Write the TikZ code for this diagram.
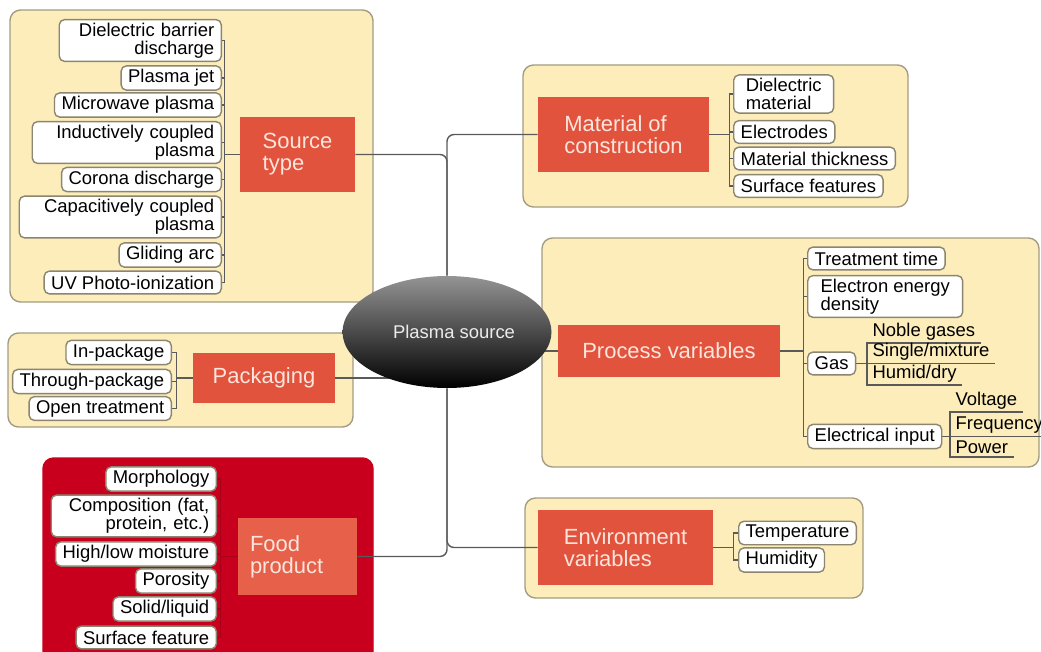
\documentclass[tikz,border=0pt]{standalone}
\usepackage{fontspec}
\setmainfont{Liberation Sans}
\usetikzlibrary{shapes.geometric}
\definecolor{boxyellow}{HTML}{FCEDBB}
\definecolor{boxline}{HTML}{A39C82}
\definecolor{nodered1}{HTML}{E2533D}
\definecolor{nodered2}{HTML}{C8001E}
\definecolor{nodered3}{HTML}{E6604A}
\definecolor{nodered4}{HTML}{A8001A}
\definecolor{leafline}{HTML}{8C8670}
\definecolor{linegray}{HTML}{5A5A5A}
\definecolor{topictext}{HTML}{FCE5DC}
\pgfdeclarelayer{boxes}
\pgfdeclarelayer{lines}
\pgfsetlayers{boxes,lines,main}
\tikzset{
  group/.style={draw=boxline, fill=boxyellow, rounded corners=6pt, line width=0.8pt},
  topic/.style={fill=nodered1, text=topictext, font=\fontsize{12.5}{12.5}\selectfont, align=left, inner sep=0pt},
  leaf/.style={draw=leafline, fill=white, rounded corners=3pt, line width=0.8pt,
    font=\fontsize{10.5}{10}\selectfont, inner xsep=4pt, inner ysep=2pt, minimum height=13pt},
  sub/.style={font=\fontsize{10.5}{10}\selectfont, inner xsep=3pt, inner ysep=1.5pt, anchor=south west},
  conn/.style={draw=linegray, line width=0.8pt}
}
\begin{document}
\begin{tikzpicture}[x=0.02cm, y=-0.02cm]
   \useasboundingbox (0,0) rectangle (1041,652);
   \begin{pgfonlayer}{boxes}
   \draw[group] (10,10) rectangle (373,302);
   \draw[group] (523,65) rectangle (908,207);
   \draw[group] (542,238) rectangle (1039,467);
   \draw[group] (8,333) rectangle (353,427);
   \draw[group, fill=nodered2, draw=nodered2] (43,458) rectangle (373,680);
   \draw[group] (525,498) rectangle (863,598);
   \end{pgfonlayer}

   \node[ellipse, minimum width=3.8cm, minimum height=2.24cm, top color=black!42, middle color=black, bottom color=black,
     text=white!92!black, font=\fontsize{10.5}{12}\selectfont] (ps) at (447,332) {\hspace{8pt}Plasma source};

   \node[topic, minimum width=2.3cm, minimum height=1.5cm] (srctype) at (297.5,154.5) {Source\\type};
   \node[topic, minimum width=3.42cm, minimum height=1.5cm] (mat) at (623.5,134.5) {Material of\\construction};
   \node[topic, minimum width=4.44cm, minimum height=1.04cm] (proc) at (669,351) {Process variables};
   \node[topic, minimum width=2.84cm, minimum height=1cm] (pack) at (264,378) {Packaging};
   \node[topic, fill=nodered3, text width=1.9cm, minimum width=2.38cm, minimum height=1.54cm] (food) at (297.5,556.5) {Food\\product};
   \node[topic, minimum width=3.5cm, minimum height=1.5cm] (env) at (625.5,547.5) {Environment\\variables};

   \node[leaf, anchor=east, text width=2.96cm, align=right] (dbd) at (222,40.5) {Dielectric barrier\\discharge};
   \node[leaf, anchor=east] (jet) at (222,78) {Plasma jet};
   \node[leaf, anchor=east] (mwp) at (222,105) {Microwave plasma};
   \node[leaf, anchor=east, text width=3.5cm, align=right] (icp) at (222,142.5) {Inductively coupled\\plasma};
   \node[leaf, anchor=east] (cor) at (222,179.5) {Corona discharge};
   \node[leaf, anchor=east, text width=3.76cm, align=right] (ccp) at (222,217) {Capacitively coupled\\plasma};
   \node[leaf, anchor=east] (arc) at (222,255) {Gliding arc};
   \node[leaf, anchor=east] (uvp) at (222,282.5) {UV Photo-ionization};

   \node[leaf, anchor=west, minimum width=2cm, align=left] (diel) at (733,94) {Dielectric\\material};
   \node[leaf, anchor=west] (elecd) at (733,132) {Electrodes};
   \node[leaf, anchor=west] (thick) at (733,158.5) {Material thickness};
   \node[leaf, anchor=west] (surf) at (733,186) {Surface features};

   \node[leaf, anchor=west] (tt) at (807,258.5) {Treatment time};
   \node[leaf, anchor=west, minimum width=3.1cm, align=left] (eed) at (807,296.5) {Electron energy\\density};
   \node[leaf, anchor=west] (gas) at (807,363.5) {Gas};
   \node[leaf, anchor=west] (elin) at (807,436.5) {Electrical input};
   \node[sub] (ng) at (867,343) {Noble gases};
   \node[sub] (sm) at (867,363.5) {Single/mixture};
   \node[sub] (hd) at (867,385) {Humid/dry};
   \node[sub] (volt) at (950,412) {Voltage};
   \node[sub] (freq) at (950,436.5) {Frequency};
   \node[sub] (pow) at (950,457) {Power};

   \node[leaf, anchor=east] (inp) at (172,352.5) {In-package};
   \node[leaf, anchor=east] (thp) at (172,381.5) {Through-package};
   \node[leaf, anchor=east] (opt) at (172,408.5) {Open treatment};

   \node[leaf, anchor=east] (morph) at (217,479) {Morphology};
   \node[leaf, anchor=east, text width=3.02cm, align=right] (comp) at (217,516) {Composition (fat,\\protein, etc.)};
   \node[leaf, anchor=east] (moist) at (217,554) {High/low moisture};
   \node[leaf, anchor=east] (poro) at (217,581) {Porosity};
   \node[leaf, anchor=east] (solid) at (217,609) {Solid/liquid};
   \node[leaf, anchor=east] (sfeat) at (217,637.5) {Surface feature};

   \node[leaf, anchor=west] (temp) at (738,533) {Temperature};
   \node[leaf, anchor=west] (humi) at (738,560) {Humidity};

   \begin{pgfonlayer}{lines}
   \draw[conn, rounded corners=4pt] (srctype.east) -| (ps.north);
   \draw[conn, rounded corners=4pt] (mat.west) -| (ps.north);
   \draw[conn, rounded corners=4pt] (food.east) -| (ps.south);
   \draw[conn, rounded corners=4pt] (env.west) -| (ps.south);
   \draw[conn] (pack.east) -- (pack.east -| ps.center);
   \draw[conn] (proc.west) -- (proc.west -| ps.center);

   \draw[conn] (srctype.west) -- ++(-15,0) |- (dbd.east);
   \draw[conn] (srctype.west) -- ++(-15,0) |- (jet.east);
   \draw[conn] (srctype.west) -- ++(-15,0) |- (mwp.east);
   \draw[conn] (srctype.west) -- ++(-15,0) |- (icp.east);
   \draw[conn] (srctype.west) -- ++(-15,0) |- (cor.east);
   \draw[conn] (srctype.west) -- ++(-15,0) |- (ccp.east);
   \draw[conn] (srctype.west) -- ++(-15,0) |- (arc.east);
   \draw[conn] (srctype.west) -- ++(-15,0) |- (uvp.east);

   \draw[conn] (mat.east) -- ++(20,0) |- (diel.west);
   \draw[conn] (mat.east) -- ++(20,0) |- (elecd.west);
   \draw[conn] (mat.east) -- ++(20,0) |- (thick.west);
   \draw[conn] (mat.east) -- ++(20,0) |- (surf.west);

   \draw[conn] (proc.east) -- ++(23,0) |- (tt.west);
   \draw[conn] (proc.east) -- ++(23,0) |- (eed.west);
   \draw[conn] (proc.east) -- ++(23,0) |- (gas.west);
   \draw[conn] (proc.east) -- ++(23,0) |- (elin.west);
   \draw[conn] (gas.east) -| (ng.south west) -- (ng.south east);
   \draw[conn] (gas.east) -| (sm.south west) -- (sm.south east);
   \draw[conn] (gas.east) -| (hd.south west) -- (hd.south east);
   \draw[conn] (elin.east) -| (volt.south west) -- (volt.south east);
   \draw[conn] (elin.east) -| (freq.south west) -- (freq.south east);
   \draw[conn] (elin.east) -| (pow.south west) -- (pow.south east);

   \draw[conn] (pack.west) -- ++(-16,0) |- (inp.east);
   \draw[conn] (pack.west) -- ++(-16,0) |- (thp.east);
   \draw[conn] (pack.west) -- ++(-16,0) |- (opt.east);

   \draw[conn, draw=nodered4] (food.west) -- ++(-17,0) |- (morph.east);
   \draw[conn, draw=nodered4] (food.west) -- ++(-17,0) |- (comp.east);
   \draw[conn, draw=nodered4] (food.west) -- ++(-17,0) |- (moist.east);
   \draw[conn, draw=nodered4] (food.west) -- ++(-17,0) |- (poro.east);
   \draw[conn, draw=nodered4] (food.west) -- ++(-17,0) |- (solid.east);
   \draw[conn, draw=nodered4] (food.west) -- ++(-17,0) |- (sfeat.east);

   \draw[conn] (env.east) -- ++(20,0) |- (temp.west);
   \draw[conn] (env.east) -- ++(20,0) |- (humi.west);
   \end{pgfonlayer}
\end{tikzpicture}
\end{document}
